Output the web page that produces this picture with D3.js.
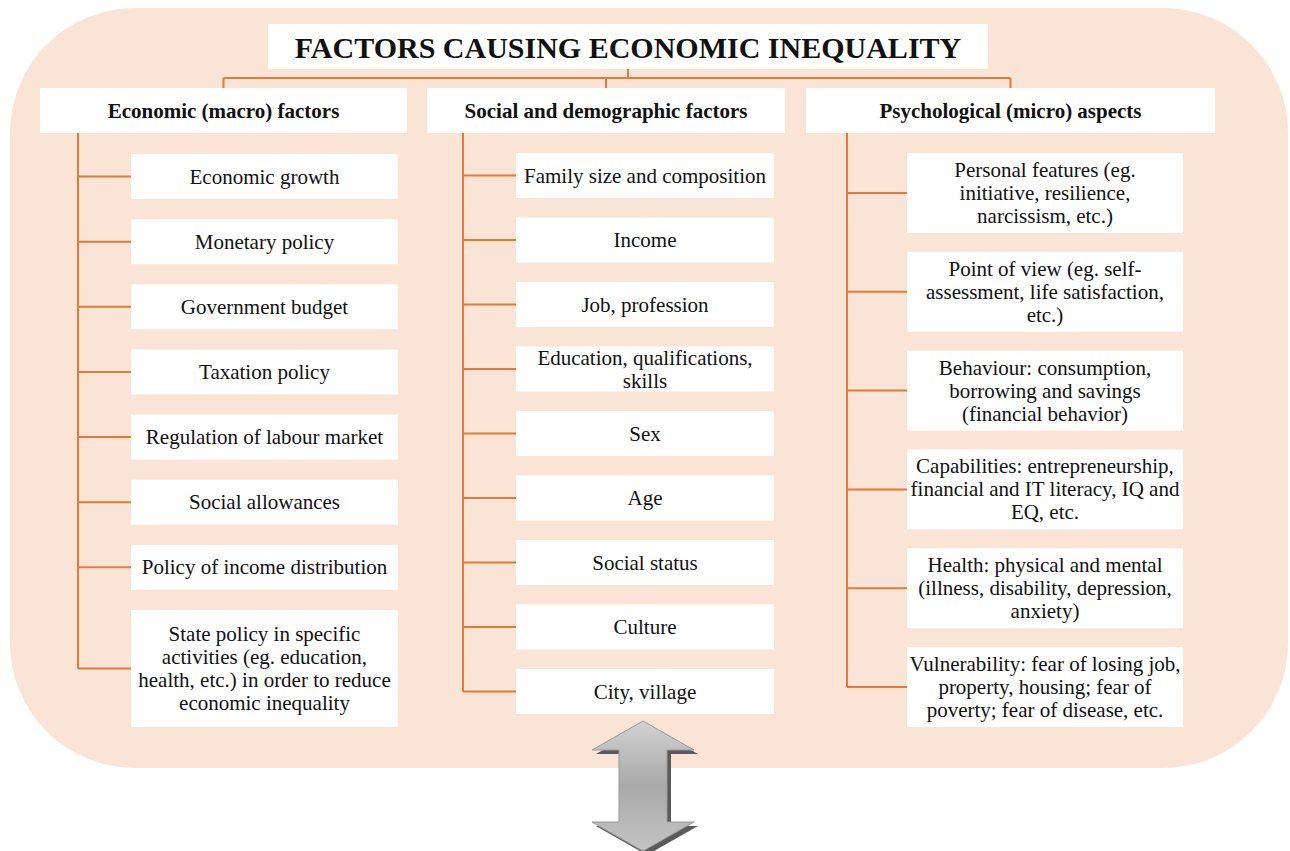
<!DOCTYPE html>
<html>
<head>
<meta charset="utf-8">
<script src="https://cdn.jsdelivr.net/npm/d3@7"></script>
<style>
  html, body { margin: 0; padding: 0; background: #fff; }
  svg { display: block; }
</style>
</head>
<body>
<svg width="1290" height="851"></svg>
<script>
"use strict";
// Labels of the diagram; "\n" marks a line break inside a box.
const TITLE = "FACTORS CAUSING ECONOMIC INEQUALITY";
const GROUPS = ["Economic (macro) factors", "Social and demographic factors", "Psychological (micro) aspects"];
const ECONOMIC_FACTORS = [
    "Economic growth",
    "Monetary policy",
    "Government budget",
    "Taxation policy",
    "Regulation of labour market",
    "Social allowances",
    "Policy of income distribution",
    "State policy in specific\nactivities (eg. education,\nhealth, etc.) in order to reduce\neconomic inequality"
];
const SOCIAL_FACTORS = [
    "Family size and composition",
    "Income",
    "Job, profession",
    "Education, qualifications,\nskills",
    "Sex",
    "Age",
    "Social status",
    "Culture",
    "City, village"
];
const PSYCHOLOGICAL_ASPECTS = [
    "Personal features (eg.\ninitiative, resilience,\nnarcissism, etc.)",
    "Point of view (eg. self-\nassessment, life satisfaction,\netc.)",
    "Behaviour: consumption,\nborrowing and savings\n(financial behavior)",
    "Capabilities: entrepreneurship,\nfinancial and IT literacy, IQ and\nEQ, etc.",
    "Health: physical and mental\n(illness, disability, depression,\nanxiety)",
    "Vulnerability: fear of losing job,\nproperty, housing; fear of\npoverty; fear of disease, etc."
];
const ITEMS = [ECONOMIC_FACTORS, SOCIAL_FACTORS, PSYCHOLOGICAL_ASPECTS];

window.addEventListener("load", drawDiagram);

function drawDiagram() {
    const svg = d3.select("svg");
    const lineColor = "#e07b3a";
    const font = "'Liberation Serif', 'Times New Roman', serif";
    const lineH = 23;

    // layout of the three columns
    const columns = [
        { hx0: 40,  hx1: 407,  trunk: 78,  bx: 131, bw: 267, top: 154, bottom: 727, pad: 25 },
        { hx0: 427, hx1: 785,  trunk: 463, bx: 516, bw: 258, top: 153, bottom: 714, pad: -1 },
        { hx0: 806, hx1: 1215, trunk: 847, bx: 907, bw: 276, top: 153, bottom: 727, pad: 11 }
    ];
    const headerY = 88, headerH = 45;

    // background
    svg.append("rect")
        .attr("x", 10).attr("y", 8)
        .attr("width", 1278).attr("height", 760)
        .attr("rx", 125).attr("ry", 125)
        .attr("fill", "#fae4d6");

    // title
    svg.append("rect")
        .attr("x", 268).attr("y", 24)
        .attr("width", 720).attr("height", 45)
        .attr("fill", "#fff");
    svg.append("text")
        .attr("x", 628).attr("y", 47)
        .attr("text-anchor", "middle")
        .attr("dominant-baseline", "central")
        .attr("font-family", font)
        .attr("font-weight", "bold")
        .attr("font-size", 30)
        .attr("fill", "#111")
        .text(TITLE);

    // connectors from title to headers
    const headerCenters = columns.map(c => (c.hx0 + c.hx1) / 2);
    const busY = 78;
    const connectors = svg.append("g")
        .attr("stroke", lineColor).attr("stroke-width", 2).attr("fill", "none");
    connectors.append("line")
        .attr("x1", 628).attr("x2", 628).attr("y1", 69).attr("y2", busY);
    connectors.append("line")
        .attr("x1", d3.min(headerCenters)).attr("x2", d3.max(headerCenters))
        .attr("y1", busY).attr("y2", busY);
    connectors.selectAll("line.drop")
        .data(headerCenters)
        .join("line")
        .attr("class", "drop")
        .attr("x1", d => d).attr("x2", d => d)
        .attr("y1", busY).attr("y2", headerY);

    // headers
    const headers = svg.selectAll("g.header")
        .data(GROUPS)
        .join("g")
        .attr("class", "header");
    headers.append("rect")
        .attr("x", (d, i) => columns[i].hx0)
        .attr("y", headerY)
        .attr("width", (d, i) => columns[i].hx1 - columns[i].hx0)
        .attr("height", headerH)
        .attr("fill", "#fff");
    headers.append("text")
        .attr("x", (d, i) => headerCenters[i])
        .attr("y", headerY + headerH / 2)
        .attr("text-anchor", "middle")
        .attr("dominant-baseline", "central")
        .attr("font-family", font)
        .attr("font-weight", "bold")
        .attr("font-size", 21)
        .attr("fill", "#111")
        .text(d => d);

    // item boxes of each column
    ITEMS.forEach((items, ci) => {
        const col = columns[ci];
        const lines = items.map(s => s.split("\n"));
        const heights = lines.map(l => l.length === 1 ? 45 : l.length * lineH + col.pad);
        const gap = (col.bottom - col.top - d3.sum(heights)) / (items.length - 1);
        const tops = heights.map((h, i) => col.top + d3.sum(heights.slice(0, i)) + gap * i);
        const centers = tops.map((t, i) => t + heights[i] / 2);

        const g = svg.append("g");
        // trunk and branches
        g.append("line")
            .attr("x1", col.trunk).attr("x2", col.trunk)
            .attr("y1", headerY + headerH).attr("y2", d3.max(centers))
            .attr("stroke", lineColor).attr("stroke-width", 2);
        g.selectAll("line.branch")
            .data(centers)
            .join("line")
            .attr("class", "branch")
            .attr("x1", col.trunk).attr("x2", col.bx)
            .attr("y1", d => d).attr("y2", d => d)
            .attr("stroke", lineColor).attr("stroke-width", 2);

        const boxes = g.selectAll("g.item")
            .data(lines)
            .join("g")
            .attr("class", "item");
        boxes.append("rect")
            .attr("x", col.bx)
            .attr("y", (d, i) => tops[i])
            .attr("width", col.bw)
            .attr("height", (d, i) => heights[i])
            .attr("fill", "#fff");
        boxes.append("text")
            .attr("text-anchor", "middle")
            .attr("font-family", font)
            .attr("font-size", 21)
            .attr("fill", "#111")
            .each(function(d, i) {
                const t = d3.select(this);
                d.forEach((line, k) => {
                    t.append("tspan")
                        .attr("x", col.bx + col.bw / 2)
                        .attr("y", centers[i] + (k - (d.length - 1) / 2) * lineH)
                        .attr("dominant-baseline", "central")
                        .text(line);
                });
            });
    });

    // double arrow below the panel
    const ax = 643, top = 721, bot = 851, headW = 51, shaftW = 24, headH = 29;
    const arrowPts = [
        [ax, top], [ax + headW, top + headH], [ax + shaftW, top + headH],
        [ax + shaftW, bot - headH], [ax + headW, bot - headH], [ax, bot],
        [ax - headW, bot - headH], [ax - shaftW, bot - headH],
        [ax - shaftW, top + headH], [ax - headW, top + headH]
    ];
    const defs = svg.append("defs");
    const grad = defs.append("linearGradient")
        .attr("id", "arrowGrad").attr("x1", 0).attr("y1", 0).attr("x2", 0).attr("y2", 1);
    grad.append("stop").attr("offset", "0%").attr("stop-color", "#d2d2d2");
    grad.append("stop").attr("offset", "50%").attr("stop-color", "#a9a9a9");
    grad.append("stop").attr("offset", "100%").attr("stop-color", "#c4c4c4");
    const line = d3.line();
    svg.append("path")
        .attr("d", line(arrowPts) + "Z")
        .attr("transform", "translate(4,4)")
        .attr("fill", "#5a5a5a");
    svg.append("path")
        .attr("d", line(arrowPts) + "Z")
        .attr("fill", "url(#arrowGrad)")
        .attr("stroke", "#9a9a9a")
        .attr("stroke-width", 1);
}
</script>
</body>
</html>
